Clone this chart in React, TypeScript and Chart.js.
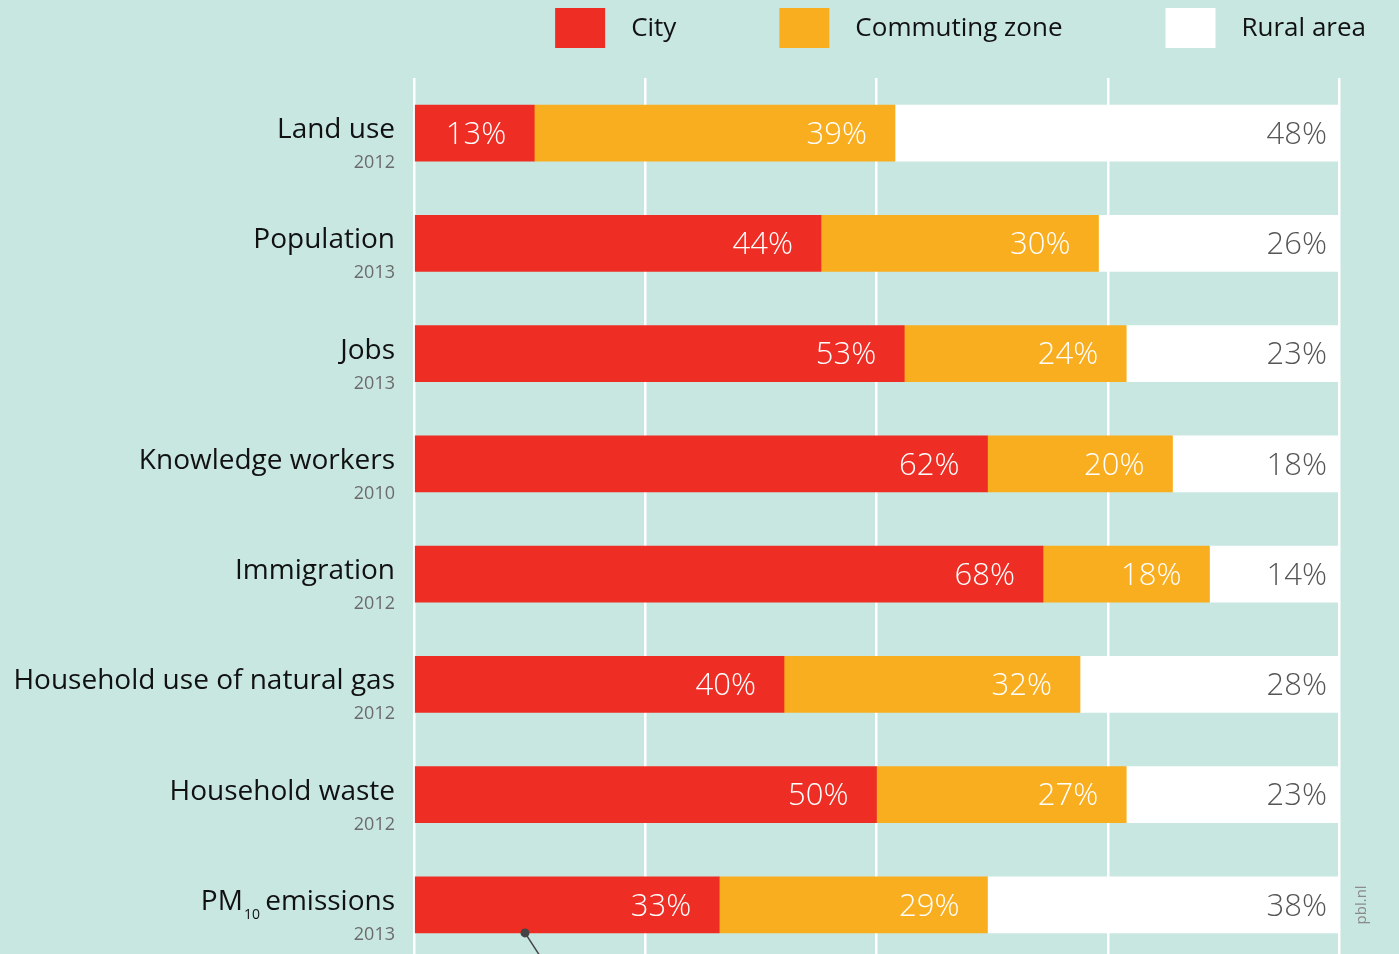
import React, { useEffect, useRef } from "react";
import { Chart, registerables } from "chart.js";

Chart.register(...registerables);

const categories = [
  "Land use",
  "Population",
  "Jobs",
  "Knowledge workers",
  "Immigration",
  "Household use of natural gas",
  "Household waste",
  "PM10 emissions",
];
const years = ["2012", "2013", "2013", "2010", "2012", "2012", "2012", "2013"];
const cityValues = [13, 44, 53, 62, 68, 40, 50, 33];
const commutingValues = [39, 30, 24, 20, 18, 32, 27, 29];
const ruralValues = [48, 26, 23, 18, 14, 28, 23, 38];
const seriesNames = ["City", "Commuting zone", "Rural area"];
const xTicks = [0, 25, 50, 75, 100];
const pmMarkerValue = 12;

const BG = "#c8e7e0";
const RED = "#ee2e24";
const ORANGE = "#f9ae1f";
const WHITE = "#ffffff";
const FONT = "'Open Sans', 'Noto Sans', sans-serif";

const decorPlugin = {
  id: "decor",
  beforeDraw(chart: any) {
    const ctx = chart.ctx;
    ctx.save();
    ctx.fillStyle = BG;
    ctx.fillRect(0, 0, chart.width, chart.height);
    ctx.restore();
  },
  afterDatasetsDraw(chart: any) {
    const ctx = chart.ctx;
    const yScale = chart.scales.y;
    const xScale = chart.scales.x;
    const area = chart.chartArea;
    ctx.save();
    // value labels
    ctx.font = `300 31px ${FONT}`;
    ctx.textBaseline = "middle";
    ctx.textAlign = "right";
    chart.data.datasets.forEach((ds: any, di: number) => {
      const meta = chart.getDatasetMeta(di);
      meta.data.forEach((el: any, j: number) => {
        const v = ds.data[j];
        const pad = di === 2 ? 12 : 28;
        ctx.fillStyle = di === 2 ? "#555555" : "#ffffff";
        ctx.fillText(`${v}%`, el.x - pad, el.y + 2);
      });
    });
    // category labels
    const labelRight = area.left - 19;
    categories.forEach((cat, i) => {
      const cy = yScale.getPixelForValue(i);
      ctx.textAlign = "right";
      ctx.textBaseline = "alphabetic";
      ctx.fillStyle = "#111111";
      ctx.font = `28px ${FONT}`;
      if (cat.startsWith("PM10")) {
        const rest = cat.slice(4);
        const restW = ctx.measureText(rest).width;
        ctx.fillText(rest, labelRight, cy + 5);
        ctx.font = `14px ${FONT}`;
        const subW = ctx.measureText("10").width;
        ctx.fillText("10", labelRight - restW + 2, cy + 14);
        ctx.font = `28px ${FONT}`;
        ctx.fillText("PM", labelRight - restW - subW + 1, cy + 5);
      } else {
        ctx.fillText(cat, labelRight, cy + 5);
      }
      ctx.font = `18px ${FONT}`;
      ctx.fillStyle = "#6b6b6b";
      ctx.fillText(years[i], labelRight, cy + 35);
    });
    // marker on PM10 bar
    const last = categories.length - 1;
    const el = chart.getDatasetMeta(0).data[last];
    const mx = xScale.getPixelForValue(pmMarkerValue);
    const my = el.y + el.height / 2;
    ctx.strokeStyle = "#444444";
    ctx.lineWidth = 1.5;
    ctx.beginPath();
    ctx.moveTo(mx, my);
    ctx.lineTo(mx + 22, my + 34);
    ctx.stroke();
    ctx.fillStyle = "#444444";
    ctx.beginPath();
    ctx.arc(mx, my, 4.5, 0, Math.PI * 2);
    ctx.fill();
    // pbl.nl
    ctx.save();
    ctx.translate(area.right + 23, yScale.getPixelForValue(last));
    ctx.rotate(-Math.PI / 2);
    ctx.font = `15px ${FONT}`;
    ctx.fillStyle = "#8a8a8a";
    ctx.textAlign = "center";
    ctx.textBaseline = "middle";
    ctx.fillText("pbl.nl", 0, 0);
    ctx.restore();
    ctx.restore();
  },
  afterDraw(chart: any) {
    const ctx = chart.ctx;
    ctx.save();
    ctx.font = `26px ${FONT}`;
    ctx.textBaseline = "middle";
    ctx.textAlign = "left";
    const colors = [RED, ORANGE, WHITE];
    const boxW = 50;
    const boxH = 40;
    const textGap = 26;
    const itemGap = 103;
    let xRight = 1366;
    const positions: number[] = [];
    for (let i = seriesNames.length - 1; i >= 0; i--) {
      const w = boxW + textGap + ctx.measureText(seriesNames[i]).width;
      const x0 = xRight - w;
      positions[i] = x0;
      xRight = x0 - itemGap;
    }
    seriesNames.forEach((name, i) => {
      const x0 = positions[i];
      ctx.fillStyle = colors[i];
      ctx.fillRect(x0, 8, boxW, boxH);
      ctx.fillStyle = "#111111";
      ctx.fillText(name, x0 + boxW + textGap, 29);
    });
    ctx.restore();
  },
};

export default function App() {
  const ref = useRef<HTMLCanvasElement | null>(null);
  useEffect(() => {
    if (!ref.current) return;
    const chart = new Chart(ref.current, {
      type: "bar",
      data: {
        labels: categories,
        datasets: [
          { label: seriesNames[0], data: cityValues, backgroundColor: RED },
          { label: seriesNames[1], data: commutingValues, backgroundColor: ORANGE },
          { label: seriesNames[2], data: ruralValues, backgroundColor: WHITE },
        ],
      },
      options: {
        indexAxis: "y",
        responsive: false,
        animation: false,
        devicePixelRatio: 1,
        layout: { padding: { left: 414, right: 60, top: 78, bottom: 0 } },
        datasets: { bar: { barThickness: 56, borderWidth: 0 } },
        plugins: { legend: { display: false }, tooltip: { enabled: false } },
        scales: {
          x: {
            stacked: true,
            min: 0,
            max: 100,
            afterBuildTicks: (scale: any) => {
              scale.ticks = xTicks.map((v) => ({ value: v }));
            },
            ticks: { display: false },
            grid: { color: "#ffffff", lineWidth: 2.5, drawTicks: false },
            border: { display: false },
          },
          y: {
            stacked: true,
            display: false,
          },
        },
      },
      plugins: [decorPlugin],
    } as any);
    return () => chart.destroy();
  }, []);
  return (
    <div
      style={{
        position: "fixed",
        left: 0,
        top: 0,
        width: 1399,
        height: 954,
        overflow: "hidden",
        background: BG,
      }}
    >
      <canvas ref={ref} width={1399} height={960} style={{ display: "block" }} />
    </div>
  );
}
